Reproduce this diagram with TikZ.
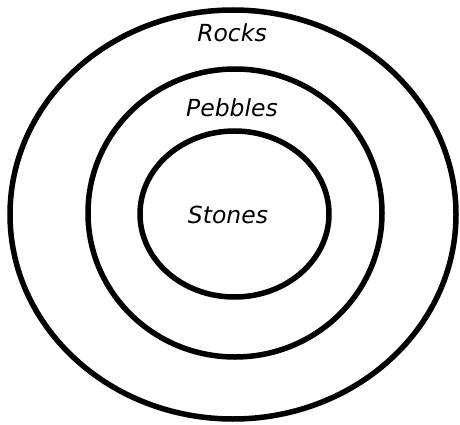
\documentclass[tikz,border=0pt]{standalone}
\usepackage{fontspec}
\setmainfont{DejaVu Sans}
\begin{document}
\begin{tikzpicture}[x=1pt,y=-1pt,
  ring/.style={draw=black,line width=5.5pt},
  lbl/.style={font=\itshape\fontsize{23.5}{26}\selectfont,anchor=base,inner sep=0pt}]
\useasboundingbox[fill=white] (0,0) rectangle (460,425);
\draw[ring] (233,214.5) ellipse [x radius=223,y radius=204.5];
\draw[ring] (235,213) ellipse [x radius=147,y radius=144];
\draw[ring] (234.5,214) ellipse [x radius=94.5,y radius=83];
\node[lbl] (rocks) at (232,42) {Rocks};
\node[lbl] (pebbles) at (232,117) {Pebbles};
\node[lbl] (stones) at (228,223) {Stones};
\end{tikzpicture}
\end{document}
